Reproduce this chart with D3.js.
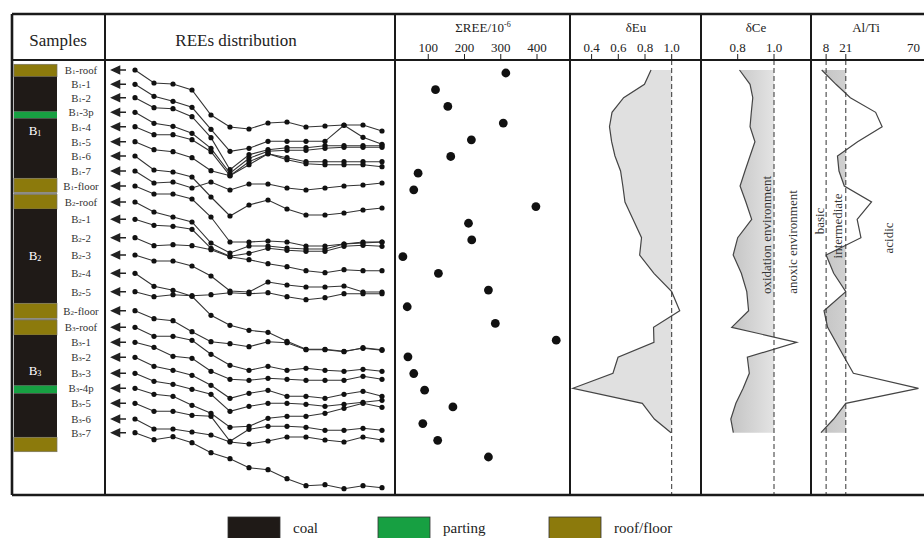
<!DOCTYPE html>
<html><head><meta charset="utf-8">
<script src="https://cdn.jsdelivr.net/npm/d3@7"></script>
<style>
body{margin:0;background:#fff}
svg{display:block}
text{font-family:"Liberation Serif","Times New Roman",serif;fill:#222}
</style>
</head><body>
<svg id="c" width="924" height="538"></svg>
<script>
// ---------------- DATA ----------------
const samples = ["B1-roof","B1-1","B1-2","B1-3p","B1-4","B1-5","B1-6","B1-7","B1-floor",
  "B2-roof","B2-1","B2-2","B2-3","B2-4","B2-5","B2-floor",
  "B3-roof","B3-1","B3-2","B3-3","B3-4p","B3-5","B3-6","B3-7"];
// relative stratigraphic position of each sample (arbitrary depth units)
const sampleDepth = [10,24.3,37.7,52.3,66.7,81.7,96,111,126,142,159.3,177.7,195,213.3,231.7,250.7,
  267.3,282.3,297.3,313.3,328.3,343.3,359,372.7];
const sumREE = [314,120,154,307,219,162,72,60,397,211,220,30,128,266,42,285,453,44,60,90,168,85,126,266];
const dEu = [0.845,0.796,0.64,0.553,0.534,0.55,0.575,0.617,0.634,0.65,0.71,0.774,0.76,0.867,1.0,1.06,
  0.864,0.867,0.598,0.56,0.26,0.78,0.87,0.995];
const dCe = [0.81,0.868,0.883,0.875,0.868,0.895,0.868,0.84,0.813,0.845,0.877,0.80,0.775,0.82,0.85,0.86,
  0.767,1.125,0.853,0.864,0.83,0.79,0.762,0.776];
const alTi = [5.1,14.5,24,40.7,45,28.8,15.5,16.5,20,38,28.5,31,8,13,21,6.6,9,14.5,20,26,69,21,13,4.6];
const reeElements = ["La","Ce","Pr","Nd","Sm","Eu","Gd","Tb","Dy","Ho","Er","Tm","Yb","Lu"];
// normalized REE pattern of each sample, as offset below its La value (arbitrary units)
const reeProfiles = [
[0,13,14,20,45,57,59,53,52,57,56,55,55,61],
[0,12,17,23,45,67,64,57,57,57,57,41,53,60],
[0,10,11,19,40,72,57,52,50,50,48,48,48,48],
[0,11,14,21,36,61,46,39,38,38,36,35,35,35],
[0,8,8,13,25,49,35,27,31,35,35,35,35,35],
[0,8,10,16,29,34,23,12,18,22,23,23,23,25],
[0,14,16,21,41,60,49,44,53,59,59,57,54,52],
[0,12,11,17,11,19,13,13,17,19,17,15,14,12],
[0,8,8,13,31,56,56,55,56,60,60,58,56,56],
[0,10,15,20,41,51,44,44,46,47,47,42,41,40],
[0,6,7,10,29,37,34,29,31,32,32,27,26,27],
[0,8,7,8,12,19,22,26,29,33,35,32,33,33],
[0,6,6,11,21,36,37,27,30,32,32,31,37,37],
[0,13,17,23,42,52,57,59,68,76,76,78,75,77],
[0,5,3,4,3,1,2,1,5,8,6,2,2,2],
[0,8,10,21,31,33,36,31,32,39,39,41,37,39],
[0,9,9,13,27,38,43,39,43,41,43,44,42,44],
[0,5,14,16,29,37,38,36,37,38,38,38,34,37],
[0,9,13,18,28,41,36,33,39,39,41,37,34,39],
[0,8,11,16,21,38,33,30,30,31,33,31,29,27],
[0,6,8,17,25,39,38,30,28,28,25,20,15,19],
[0,8,8,12,13,38,26,23,23,24,27,27,25,27],
[0,10,10,13,16,23,25,22,18,18,21,23,18,21],
[0,7,4,10,20,26,35,37,46,53,52,56,53,55]
];
// lithology column (depth units)
const lithType = ["roof","coal","parting","coal","roof","gap","roof","coal","roof","gap","roof","coal","parting","coal","roof"];
const lithTop  = [4.3,16.7,51.7,58.3,118.3,132.3,134.5,149,243.3,258.3,260,275,325.7,333.3,377.3];
const lithBot  = [16.7,51.7,58.3,118.3,132.3,134.5,149,243.3,258.3,260,275,325.7,333.3,377.3,391.7];
const seams = ["B1","B2","B3"];
const seamDepth = [70,195,310];
const legendKeys = ["coal","parting","roof/floor"];
const legendTypes = ["coal","parting","roof"];
const sumTicks = [100,200,300,400];
const euTicks = [0.4,0.6,0.8,1.0];
const ceTicks = [0.8,1.0];
const alTicks = [8,21];
const colors = {coal:"#1f1a17", parting:"#17a042", roof:"#8c7a0c", gap:"#8a8a86"};

// ---------------- LAYOUT ----------------
const svg = d3.select("#c");
const frameTop = 14, headBot = 60, frameBot = 495;
const cols = [12,105,395,570,701,811];
const yDepth = d3.scaleLinear().domain([0,435]).range([headBot, frameBot]);
const defs = svg.append("defs");
const grad = defs.append("linearGradient").attr("id","g1").attr("x1","0").attr("x2","1");
grad.append("stop").attr("offset","0").attr("stop-color","#c4c4c4");
grad.append("stop").attr("offset","1").attr("stop-color","#f4f4f4");

// ---------- lithology strip ----------
const strip = svg.append("g");
strip.selectAll("rect").data(lithType).join("rect")
  .attr("x",14).attr("width",43)
  .attr("y",(d,i)=>yDepth(lithTop[i])).attr("height",(d,i)=>yDepth(lithBot[i])-yDepth(lithTop[i]))
  .attr("fill",d=>colors[d]).attr("stroke",d=>d==="roof"?"#77735e":"none").attr("stroke-width",0.7);
strip.selectAll("text").data(seams).join("text")
  .attr("x",35).attr("y",(d,i)=>yDepth(seamDepth[i])).attr("text-anchor","middle")
  .attr("dominant-baseline","central").style("fill","#fff").attr("font-size",13)
  .each(function(d){const t=d3.select(this);t.append("tspan").text("B");
    t.append("tspan").attr("font-size",8).attr("dy",3).text(d.slice(1));});

// sample labels
function sampleLabel(sel){
  sel.each(function(d){
    const m=d.match(/^B(\d)(.*)$/); const t=d3.select(this);
    t.append("tspan").text("B");
    t.append("tspan").attr("font-size",7).attr("dy",2).text(m[1]);
    t.append("tspan").attr("dy",-2).text(m[2]);
  });
}
svg.append("g").selectAll("text").data(samples).join("text")
  .attr("x",81).attr("y",(d,i)=>yDepth(sampleDepth[i])).attr("text-anchor","middle")
  .attr("dominant-baseline","central").attr("font-size",10.8).style("fill","#333")
  .call(sampleLabel);

// ---------- REE distribution ----------
const xRee = d3.scalePoint().domain(reeElements).range([135,382]);
const reeOff = d3.scaleLinear().domain([0,100]).range([0,100]);
const reeG = svg.append("g");
reeG.selectAll("path.arrow").data(samples).join("path").attr("class","arrow")
  .attr("d",(d,i)=>{const y=yDepth(sampleDepth[i]);
    return `M126,${y}H118M112,${y}L119.5,${y-3.5}L119.5,${y+3.5}Z`;})
  .attr("stroke","#222").attr("stroke-width",1.6).attr("fill","#222");
const reeLine = d3.line();
reeProfiles.forEach((p,k)=>{
  const base = yDepth(sampleDepth[k]);
  const pts = p.map((v,j)=>[xRee(reeElements[j]), base+reeOff(v)]);
  reeG.append("path").attr("d",reeLine(pts)).attr("fill","none").attr("stroke","#333").attr("stroke-width",1.1);
  reeG.selectAll(null).data(pts).join("circle").attr("cx",d=>d[0]).attr("cy",d=>d[1]).attr("r",2.6).attr("fill","#111");
});

// ---------- ΣREE ----------
const xSum = d3.scaleLinear().domain([0,400]).range([392,537]);
const ySum = d3.scalePoint().domain(samples).range([73,457]);
svg.append("g").selectAll("circle").data(sumREE).join("circle")
  .attr("cx",d=>xSum(d)).attr("cy",(d,i)=>ySum(samples[i])).attr("r",4.4).attr("fill","#111");

// ---------- δEu ----------
const xEu = d3.scaleLinear().domain([0.4,1.0]).range([591.6,671.7]);
defs.append("clipPath").attr("id","cEu").append("rect").attr("x",cols[3]).attr("y",headBot).attr("width",xEu(1)-cols[3]).attr("height",frameBot-headBot);
const euArea = d3.area().y((d,i)=>yDepth(sampleDepth[i])).x0(xEu(1)).x1(d=>xEu(d));
const euLine = d3.line().y((d,i)=>yDepth(sampleDepth[i])).x(d=>xEu(d));
svg.append("path").attr("d",euArea(dEu)).attr("fill","#e0e0e0").attr("clip-path","url(#cEu)");
svg.append("path").attr("d",euLine(dEu)).attr("fill","none").attr("stroke","#444").attr("stroke-width",1.2);

// ---------- δCe ----------
const xCe = d3.scaleLinear().domain([0.8,1.0]).range([737.7,774]);
defs.append("clipPath").attr("id","cCe").append("rect").attr("x",cols[4]).attr("y",headBot).attr("width",xCe(1)-cols[4]).attr("height",frameBot-headBot);
const ceArea = d3.area().y((d,i)=>yDepth(sampleDepth[i])).x0(xCe(1)).x1(d=>xCe(d));
const ceLine = d3.line().y((d,i)=>yDepth(sampleDepth[i])).x(d=>xCe(d));
svg.append("path").attr("d",ceArea(dCe)).attr("fill","url(#g1)").attr("clip-path","url(#cCe)");
svg.append("path").attr("d",ceLine(dCe)).attr("fill","none").attr("stroke","#444").attr("stroke-width",1.2);

// ---------- Al/Ti ----------
const xAl = d3.scaleLinear().domain([0,70]).range([814,920]);
defs.append("clipPath").attr("id","cAl").append("rect").attr("x",cols[5]).attr("y",headBot).attr("width",xAl(21)-cols[5]).attr("height",frameBot-headBot);
const alArea = d3.area().y((d,i)=>yDepth(sampleDepth[i])).x0(xAl(21)).x1(d=>xAl(d));
const alLine = d3.line().y((d,i)=>yDepth(sampleDepth[i])).x(d=>xAl(d));
svg.append("path").attr("d",alArea(alTi)).attr("fill","url(#g1)").attr("clip-path","url(#cAl)");
svg.append("path").attr("d",alLine(alTi)).attr("fill","none").attr("stroke","#444").attr("stroke-width",1.2);

// dashed reference lines
const dashX = [xEu(1), xCe(1), xAl(8), xAl(21)];
svg.append("g").selectAll("line").data(dashX).join("line")
  .attr("x1",d=>d).attr("x2",d=>d).attr("y1",headBot).attr("y2",frameBot)
  .attr("stroke","#333").attr("stroke-width",1).attr("stroke-dasharray","5,3");

// rotated annotation texts
const notes = [["oxidation environment",766,235],["anoxic environment",792,242],
  ["basic",819,221],["intermediate",837,226],["acidic",888,238]];
svg.append("g").selectAll("text").data(notes).join("text")
  .attr("transform",d=>`translate(${d[1]},${d[2]}) rotate(-90)`)
  .attr("text-anchor","middle").attr("dominant-baseline","central")
  .attr("font-size",13).style("fill","#333").text(d=>d[0]);

// ---------- header ----------
const hdr = svg.append("g");
hdr.append("text").attr("x",58).attr("y",46).attr("text-anchor","middle").attr("font-size",17).text("Samples");
hdr.append("text").attr("x",236).attr("y",46).attr("text-anchor","middle").attr("font-size",17).text("REEs distribution");
const t1 = hdr.append("text").attr("x",483).attr("y",32).attr("text-anchor","middle").attr("font-size",13);
t1.append("tspan").text("ΣREE/10");
t1.append("tspan").attr("font-size",8).attr("dy",-5).text("-6");
hdr.append("text").attr("x",636).attr("y",32).attr("text-anchor","middle").attr("font-size",13).text("δEu");
hdr.append("text").attr("x",756).attr("y",32).attr("text-anchor","middle").attr("font-size",13).text("δCe");
hdr.append("text").attr("x",866).attr("y",32).attr("text-anchor","middle").attr("font-size",13).text("Al/Ti");

function ticks(scale, vals, fmt){
  const g = hdr.append("g");
  g.selectAll("line").data(vals).join("line").attr("x1",d=>scale(d)).attr("x2",d=>scale(d))
    .attr("y1",54).attr("y2",headBot).attr("stroke","#222").attr("stroke-width",1);
  g.selectAll("text").data(vals).join("text").attr("x",d=>scale(d)).attr("y",52)
    .attr("text-anchor","middle").attr("font-size",13).text(fmt);
}
ticks(xSum, sumTicks, d=>d);
ticks(xEu, euTicks, d=>d3.format(".1f")(d));
ticks(xCe, ceTicks, d=>d3.format(".1f")(d));
ticks(xAl, alTicks, d=>d);
hdr.append("text").attr("x",xAl(70)).attr("y",52).attr("text-anchor","end").attr("font-size",13).text("70");

// ---------- frame ----------
const fr = svg.append("g").attr("stroke","#1a1a1a");
fr.append("line").attr("x1",cols[0]).attr("x2",924).attr("y1",frameTop).attr("y2",frameTop).attr("stroke-width",2.6);
fr.append("line").attr("x1",cols[0]).attr("x2",924).attr("y1",headBot).attr("y2",headBot).attr("stroke-width",2);
fr.append("line").attr("x1",cols[0]).attr("x2",924).attr("y1",frameBot).attr("y2",frameBot).attr("stroke-width",2.6);
fr.selectAll("line.col").data(cols).join("line").attr("class","col")
  .attr("x1",d=>d).attr("x2",d=>d).attr("y1",frameTop).attr("y2",frameBot)
  .attr("stroke-width",(d,i)=>i===0?2.6:2);

// ---------- legend ----------
const lg = svg.append("g");
const lgX = d3.scaleOrdinal().domain(legendKeys).range([228,378,549]);
lg.selectAll("rect").data(legendKeys).join("rect")
  .attr("x",d=>lgX(d)).attr("y",517).attr("width",52).attr("height",22)
  .attr("fill",(d,i)=>colors[legendTypes[i]]).attr("stroke","#333").attr("stroke-width",0.8);
lg.selectAll("text").data(legendKeys).join("text")
  .attr("x",d=>lgX(d)+65).attr("y",533).attr("font-size",15).text(d=>d);
</script>
</body></html>
